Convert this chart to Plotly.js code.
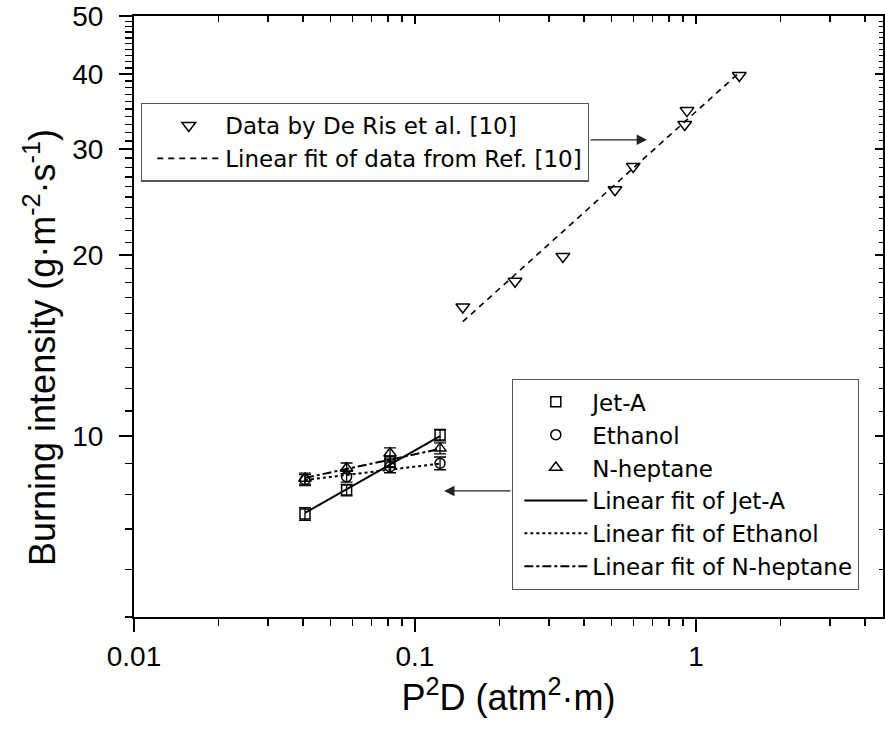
<!DOCTYPE html>
<html>
<head>
<meta charset="utf-8">
<script src="https://cdn.plot.ly/plotly-3.0.1.min.js"></script>
<style>html,body{margin:0;padding:0;background:#fff;}#chart{width:885px;height:740px;}</style>
</head>
<body>
<div id="chart"></div>
<script>
// ---- data ----
const deRisX = [0.148, 0.227, 0.336, 0.515, 0.598, 0.912, 0.929, 1.426];
const deRisY = [16.4, 18.1, 19.9, 25.7, 28.1, 33.0, 34.8, 39.8];
const deRisFitX = [0.148, 1.43];
const deRisFitY = [15.5, 40.3];

const p2dX = [0.0406, 0.0571, 0.0815, 0.1228];
const jetA = [7.42, 8.13, 9.06, 10.04];
const jetAErr = [0.18, 0.18, 0.2, 0.22];
const ethanol = [8.45, 8.56, 8.89, 9.01];
const ethanolErr = [0.18, 0.18, 0.2, 0.22];
const heptane = [8.50, 8.84, 9.36, 9.54];
const heptaneErr = [0.18, 0.18, 0.2, 0.2];

const fitX = [0.0406, 0.1228];
const jetAFitY = [7.45, 10.0];
const ethanolFitY = [8.45, 9.0];
const heptaneFitY = [8.52, 9.52];

const xMajorTicks = [0.01, 0.1, 1];
const xMajorLabels = ['0.01', '0.1', '1'];
const xMinorTicks = [0.02,0.03,0.04,0.05,0.06,0.07,0.08,0.09,0.2,0.3,0.4,0.5,0.6,0.7,0.8,0.9,2,3,4];
const yMajorTicks = [10, 20, 30, 40, 50];
const yMajorLabels = ['10', '20', '30', '40', '50'];
const yMinorTicks = [5,6,7,8,9,11,12,13,14,15,16,17,18,19,21,22,23,24,25,26,27,28,29,31,32,33,34,35,36,37,38,39,41,42,43,44,45,46,47,48,49];

const xTitle = 'P<sup>2</sup>D (atm<sup>2</sup>·m)';
const yTitle = 'Burning intensity (g·m<sup>-2</sup>·s<sup>-1</sup>)';

const legendNames = {
  jet: 'Jet-A', eth: 'Ethanol', hep: 'N-heptane',
  jetFit: 'Linear fit of Jet-A', ethFit: 'Linear fit of Ethanol', hepFit: 'Linear fit of N-heptane',
  deRis: 'Data by De Ris et al. [10]', deRisFit: 'Linear fit of data from Ref. [10]'
};

// ---- traces ----
const errStyle = (arr) => ({type: 'data', array: arr, visible: true, color: '#000', thickness: 1.3, width: 6});
const traces = [
  {x: p2dX, y: jetA, name: legendNames.jet, mode: 'markers', type: 'scatter',
   marker: {symbol: 'square-open', size: 10, color: '#000', line: {width: 1.5, color: '#000'}},
   error_y: errStyle(jetAErr), legend: 'legend'},
  {x: p2dX, y: ethanol, name: legendNames.eth, mode: 'markers', type: 'scatter',
   marker: {symbol: 'circle-open', size: 10, color: '#000', line: {width: 1.5, color: '#000'}},
   error_y: errStyle(ethanolErr), legend: 'legend'},
  {x: p2dX, y: heptane, name: legendNames.hep, mode: 'markers', type: 'scatter',
   marker: {symbol: 'triangle-up-open', size: 11, color: '#000', line: {width: 1.5, color: '#000'}},
   error_y: errStyle(heptaneErr), legend: 'legend'},
  {x: fitX, y: jetAFitY, name: legendNames.jetFit, mode: 'lines', type: 'scatter',
   line: {color: '#000', width: 2, dash: 'solid'}, legend: 'legend'},
  {x: fitX, y: ethanolFitY, name: legendNames.ethFit, mode: 'lines', type: 'scatter',
   line: {color: '#000', width: 2, dash: 'dot'}, legend: 'legend'},
  {x: fitX, y: heptaneFitY, name: legendNames.hepFit, mode: 'lines', type: 'scatter',
   line: {color: '#000', width: 2, dash: 'dashdot'}, legend: 'legend'},
  {x: deRisX, y: deRisY, name: legendNames.deRis, mode: 'markers', type: 'scatter',
   marker: {symbol: 'triangle-down-open', size: 12, color: '#000', line: {width: 1.5, color: '#000'}},
   legend: 'legend2'},
  {x: deRisFitX, y: deRisFitY, name: legendNames.deRisFit, mode: 'lines', type: 'scatter',
   line: {color: '#000', width: 1.6, dash: '6px,5px'}, legend: 'legend2'},
  // carrier for top/right mirror axes (no marks drawn)
  {x: [], y: [], xaxis: 'x2', yaxis: 'y2', showlegend: false, hoverinfo: 'skip', mode: 'markers', type: 'scatter'}
];

const FONT = 'Liberation Sans, Arial, sans-serif';
const LFONT = 'DejaVu Sans, Liberation Sans, sans-serif';
const xr = [-2, Math.log10(4.63)];
const yr = [Math.log10(5), Math.log10(50)];

const layout = {
  width: 885, height: 740,
  margin: {l: 134, r: 2, t: 16, b: 123},
  paper_bgcolor: '#fff', plot_bgcolor: '#fff',
  font: {family: FONT, color: '#000'},
  showlegend: true,
  xaxis: {
    type: 'log', range: xr, showgrid: false, zeroline: false,
    showline: true, linecolor: '#000', linewidth: 2,
    ticks: 'outside', ticklen: 13, tickwidth: 2, tickcolor: '#000',
    tickmode: 'array', tickvals: xMajorTicks, ticktext: xMajorLabels,
    tickfont: {size: 28, family: FONT}, ticklabelstandoff: 0,
    minor: {tickmode: 'array', tickvals: xMinorTicks, ticks: 'outside', ticklen: 7, tickwidth: 1.5, tickcolor: '#000', showgrid: false},
    title: {text: xTitle, font: {size: 36, family: FONT}, standoff: 12}
  },
  yaxis: {
    type: 'log', range: yr, showgrid: false, zeroline: false,
    showline: true, linecolor: '#000', linewidth: 2,
    ticks: 'outside', ticklen: 13, tickwidth: 2, tickcolor: '#000',
    tickmode: 'array', tickvals: yMajorTicks, ticktext: yMajorLabels,
    tickfont: {size: 28, family: FONT}, ticklabelstandoff: 10,
    minor: {tickmode: 'array', tickvals: yMinorTicks, ticks: 'outside', ticklen: 7, tickwidth: 1.5, tickcolor: '#000', showgrid: false}
  },
  xaxis2: {
    type: 'log', range: xr, overlaying: 'x', side: 'top', anchor: 'y2',
    showgrid: false, zeroline: false, showline: true, linecolor: '#000', linewidth: 2,
    ticks: 'inside', ticklen: 8, tickwidth: 2, tickcolor: '#000', showticklabels: false,
    tickmode: 'array', tickvals: xMajorTicks,
    minor: {tickmode: 'array', tickvals: xMinorTicks, ticks: 'inside', ticklen: 6, tickwidth: 1.5, tickcolor: '#000', showgrid: false}
  },
  yaxis2: {
    type: 'log', range: yr, overlaying: 'y', side: 'right', anchor: 'x2',
    showgrid: false, zeroline: false, showline: true, linecolor: '#000', linewidth: 2,
    ticks: 'inside', ticklen: 8, tickwidth: 2, tickcolor: '#000', showticklabels: false,
    tickmode: 'array', tickvals: yMajorTicks,
    minor: {tickmode: 'array', tickvals: yMinorTicks, ticks: 'inside', ticklen: 4, tickwidth: 1.2, tickcolor: '#000', showgrid: false}
  },
  legend: {
    x: 0.5047, y: 0.396, xanchor: 'left', yanchor: 'top',
    bgcolor: '#fff', bordercolor: '#555', borderwidth: 1.3,
    font: {size: 23, family: LFONT, color: '#000'},
    itemwidth: 63, indentation: 6, tracegroupgap: 0, traceorder: 'normal', itemclick: false
  },
  legend2: {
    x: 0.0093, y: 0.8557, xanchor: 'left', yanchor: 'top',
    bgcolor: '#fff', bordercolor: '#555', borderwidth: 1.3,
    font: {size: 23, family: LFONT, color: '#000'},
    itemwidth: 63, indentation: 10, tracegroupgap: 0, traceorder: 'normal', itemclick: false
  },
  annotations: [
    {xref: 'paper', yref: 'paper', x: -0.1255, y: 0.4476, xanchor: 'center', yanchor: 'middle',
     text: yTitle, textangle: -90, showarrow: false, font: {size: 36, family: FONT, color: '#000'}},
    {xref: 'paper', yref: 'paper', x: 0.685, y: 0.794, ax: -58, ay: 0, axref: 'pixel', ayref: 'pixel',
     text: '', showarrow: true, arrowhead: 2, arrowsize: 1.6, arrowwidth: 1.3, arrowcolor: '#222'},
    {xref: 'paper', yref: 'paper', x: 0.414, y: 0.2097, ax: 68, ay: 0, axref: 'pixel', ayref: 'pixel',
     text: '', showarrow: true, arrowhead: 2, arrowsize: 1.6, arrowwidth: 1.3, arrowcolor: '#222'}
  ]
};

Plotly.newPlot('chart', traces, layout, {displayModeBar: false, staticPlot: true});
</script>
</body>
</html>
